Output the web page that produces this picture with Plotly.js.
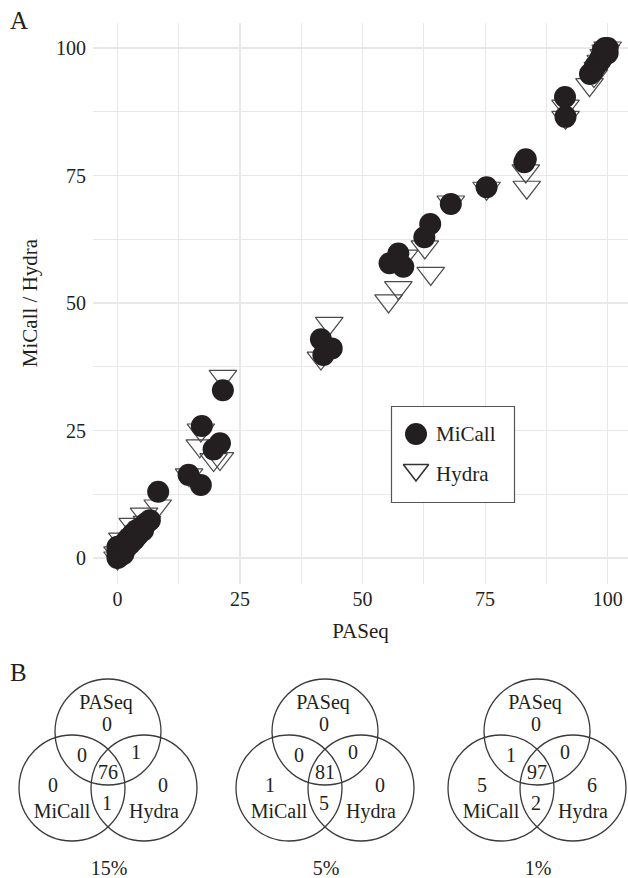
<!DOCTYPE html>
<html><head><meta charset="utf-8">
<script src="https://cdn.plot.ly/plotly-3.0.1.min.js"></script>
<style>html,body{margin:0;padding:0;background:#fff}#chart{width:628px;height:878px}</style>
</head><body><div id="chart"></div>
<script>
// ---- Panel A data (PASeq vs MiCall / Hydra) ----
const micallPASeq = [0,0,0,0,0.4,0.6,1,1.2,1.5,1.8,2.2,2.6,3,3.4,3.8,4.2,4.8,5.2,5.8,6.6,
  8.3, 14.5,17.0, 17.2,19.6,20.9, 21.5, 41.5,42.0,43.7, 55.5,57.3,58.3, 62.6,63.8, 68.0, 75.3,
  83.0,83.3, 91.3,91.4, 96.4,97,97.5,98,98.5,98.5,99,99,99.5,99.5,100,100];
const micallValues = [0,0.6,1.4,2.2,0.3,1.2,2,0.8,3,2,3.8,2.8,4.6,3.6,5.4,4.5,6,5.4,6.8,7.4,
  13.0, 16.3,14.3, 25.9,21.3,22.5, 32.9, 42.9,39.8,41.1, 57.8,59.7,57.1, 62.9,65.5, 69.4, 72.7,
  77.6,78.2, 90.4,86.5, 94.9,95.5,96.5,97,97.5,98,98.5,99.5,99.5,100,99,100];
const hydraPASeq = [0,0,1,1,2,3,3.1,4.8,5.4,6,8.2, 14.6, 16.8,17.0,19.6,20.9, 21.5, 41.5,43.2,
  55.3,57.3,58.5, 62.7,63.9, 68.0, 75.3, 83.3,83.5, 91.4,91.4, 96.3,97.2,98,98.6,99.2,99.6,100];
const hydraValues = [0,1.0,1,3.7,2.5,3.5,6.6,4.5,8.6,7,10.2, 16.3, 22.0,25.1,19.3,19.5, 35.6, 39.2,46.0,
  50.4,53.0,59.2, 61.0,55.8, 69.8, 72.5, 75.9,72.7, 88.6,86.4, 92.8,94.6,96,97.4,98.5,99.4,100];
const gridVals = [0, 12.5, 25, 37.5, 50, 62.5, 75, 87.5, 100];
const tickLabels = ["0", "", "25", "", "50", "", "75", "", "100"];
const seriesNames = ["MiCall", "Hydra"];

// ---- Panel B data (Venn counts per threshold) ----
const vennThresholds = ["15%", "5%", "1%"];
const vennSetNames = ["PASeq", "MiCall", "Hydra"];
const vennPASeqOnly = [0, 0, 0];
const vennPASeqMiCall = [0, 0, 1];
const vennPASeqHydra = [1, 0, 0];
const vennAll = [76, 81, 97];
const vennMiCallOnly = [0, 1, 5];
const vennMiCallHydra = [1, 5, 2];
const vennHydraOnly = [0, 0, 6];

// ---- layout helpers ----
const W = 628, H = 878;
const FONT = "Liberation Serif, 'Times New Roman', serif";
const TXT = "#231f20";
const plotL = 93, plotR = 628, plotT = 22.5, plotB = 583.5;

const vennCX = [108, 325, 537];
const vennTopY = 732, vennLowY = 788, vennDX = 36, vennR = 53;

const shapes = [];
vennCX.forEach(cx => {
  [[cx, vennTopY], [cx - vennDX, vennLowY], [cx + vennDX, vennLowY]].forEach(([x, y]) => {
    shapes.push({type: 'circle', xref: 'x3', yref: 'y3', x0: x - vennR, x1: x + vennR,
      y0: y - vennR, y1: y + vennR, line: {color: '#3a3a3a', width: 1.3}, layer: 'below'});
  });
});
// legend box
const legX0 = 391.5, legX1 = 514.5, legY0 = 406.5, legY1 = 502.5;
shapes.push({type: 'rect', xref: 'x3', yref: 'y3', x0: legX0, x1: legX1, y0: legY0, y1: legY1,
  fillcolor: '#ffffff', line: {color: '#555555', width: 1.2}, layer: 'below'});

// venn text via a text trace
const vx = [], vy = [], vt = [];
vennCX.forEach((cx, i) => {
  const items = [
    [cx - 2, 704, vennSetNames[0]],
    [cx - 1, 726, vennPASeqOnly[i]],
    [cx - 26, 757, vennPASeqMiCall[i]],
    [cx + 28, 754, vennPASeqHydra[i]],
    [cx, 774, vennAll[i]],
    [cx - 55, 787, vennMiCallOnly[i]],
    [cx - 46, 813, vennSetNames[1]],
    [cx - 1, 805, vennMiCallHydra[i]],
    [cx + 55, 787, vennHydraOnly[i]],
    [cx + 46, 813, vennSetNames[2]],
    [cx + 1, 870, vennThresholds[i]]
  ];
  items.forEach(([x, y, t]) => { vx.push(x); vy.push(y); vt.push(String(t)); });
});

const traces = [
  {type: 'scatter', mode: 'markers', name: seriesNames[1], x: hydraPASeq, y: hydraValues,
   xaxis: 'x', yaxis: 'y', showlegend: false,
   marker: {symbol: 'triangle-down-open', size: 24, color: '#4a4a4a', line: {width: 1.2, color: '#4a4a4a'}}},
  {type: 'scatter', mode: 'markers', name: seriesNames[0], x: micallPASeq, y: micallValues,
   xaxis: 'x', yaxis: 'y', showlegend: false,
   marker: {symbol: 'circle', size: 22, color: '#231f20', line: {width: 0}}},
  // custom legend symbols
  {type: 'scatter', mode: 'markers', x: [416], y: [434], xaxis: 'x3', yaxis: 'y3', showlegend: false, hoverinfo: 'skip',
   marker: {symbol: 'circle', size: 22, color: '#231f20', line: {width: 0}}},
  {type: 'scatter', mode: 'markers', x: [416], y: [470], xaxis: 'x3', yaxis: 'y3', showlegend: false, hoverinfo: 'skip',
   marker: {symbol: 'triangle-down-open', size: 22, color: '#333333', line: {width: 1.6, color: '#333333'}}},
  {type: 'scatter', mode: 'text', x: vx, y: vy, text: vt, xaxis: 'x3', yaxis: 'y3', showlegend: false,
   hoverinfo: 'skip', textposition: 'middle center', textfont: {family: FONT, size: 20, color: TXT}, cliponaxis: false}
];

const axisCommon = {
  tickmode: 'array', tickvals: gridVals, ticktext: tickLabels,
  showgrid: true, gridcolor: '#e8e8e8', gridwidth: 1.2, zeroline: false, showline: false, ticks: '',
  tickfont: {family: FONT, size: 20, color: TXT}, automargin: false
};

const layout = {
  width: W, height: H, margin: {l: 0, r: 0, t: 0, b: 0},
  paper_bgcolor: '#ffffff', plot_bgcolor: 'rgba(0,0,0,0)', showlegend: false,
  font: {family: FONT, color: TXT, size: 20},
  xaxis: Object.assign({}, axisCommon, {domain: [plotL / W, plotR / W], range: [-5, 104.15], anchor: 'y',
    ticklabelstandoff: 1,
    title: {text: 'PASeq', font: {family: FONT, size: 21, color: TXT}, standoff: 14}}),
  yaxis: Object.assign({}, axisCommon, {domain: [(H - plotB) / H, (H - plotT) / H], range: [-5, 105], anchor: 'x',
    ticklabelstandoff: 6,
    title: {text: 'MiCall / Hydra', font: {family: FONT, size: 21, color: TXT}, standoff: 12}}),
  xaxis3: {domain: [0, 1], range: [0, W], visible: false, fixedrange: true, anchor: 'y3'},
  yaxis3: {domain: [0, 1], range: [H, 0], visible: false, fixedrange: true, anchor: 'x3'},
  shapes: shapes,
  annotations: [
    {xref: 'x3', yref: 'y3', x: 18.5, y: 20, text: 'A', showarrow: false, font: {family: FONT, size: 25, color: TXT}},
    {xref: 'x3', yref: 'y3', x: 18.5, y: 672, text: 'B', showarrow: false, font: {family: FONT, size: 25, color: TXT}},
    {xref: 'x3', yref: 'y3', x: 434, y: 434, xanchor: 'left', text: seriesNames[0], showarrow: false, font: {family: FONT, size: 21, color: TXT}},
    {xref: 'x3', yref: 'y3', x: 434, y: 474, xanchor: 'left', text: seriesNames[1], showarrow: false, font: {family: FONT, size: 21, color: TXT}}
  ]
};

Plotly.newPlot('chart', traces, layout, {staticPlot: true, displayModeBar: false});
</script></body></html>
